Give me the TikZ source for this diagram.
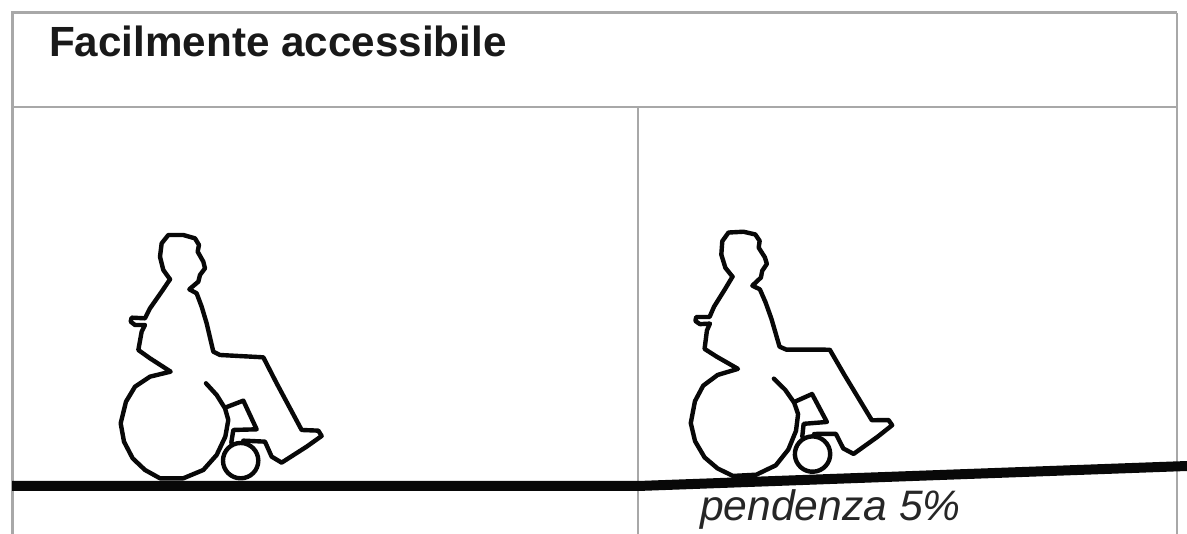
\documentclass[tikz,border=0pt]{standalone}
\usepackage{fontspec}
\setmainfont{Liberation Sans}
\definecolor{rule}{RGB}{168,168,168}
\definecolor{ink}{RGB}{8,8,8}
\tikzset{
  gridline/.style={draw=rule,line width=1.8pt},
  frameline/.style={draw=rule,line width=3pt},
  ground/.style={draw=ink,line width=10pt,line join=round},
  figline/.style={draw=ink,line width=4.4pt,line join=round,line cap=round},
  heading/.style={anchor=base west,inner sep=0pt,font=\fontsize{42.2pt}{44pt}\selectfont\bfseries,text=black!90},
  slopelabel/.style={anchor=base west,inner sep=0pt,font=\fontsize{42.6pt}{44pt}\selectfont\itshape,text=black!85}
}
\newcommand{\seatedfigure}{%
  \begin{scope}[xshift=100pt,yshift=-220pt,x=0.3333pt,y=-0.3333pt]
    % body and big wheel, a single outline
    \draw[figline] (210,178) -- (190,150) -- (180,110) -- (185,70) -- (205,45) -- (250,45) -- (285,55) -- (297,75) -- (293,95) -- (310,125) -- (315,145) -- (300,165) -- (295,185) -- (268,208) -- (290,220) -- (305,260) -- (320,310) -- (340,395) -- (360,405) -- (490,412) -- (530,490) -- (605,630) -- (655,632) -- (665,648) -- (620,680) -- (545,728) -- (515,710) -- (495,665) -- (430,662);
    \draw[figline] (210,178) -- (185,215) -- (150,265) -- (135,295) -- (95,293) -- (92,305) -- (105,315) -- (135,315) -- (125,335) -- (115,390) -- (150,415) -- (212,455) -- (150,470) -- (105,500) -- (78,545) -- (62,610) -- (72,665) -- (98,715) -- (135,750) -- (180,775) -- (250,775) -- (310,750) -- (350,705) -- (376,650) -- (385,600) -- (375,565) -- (350,525) -- (318,490);
    % seat and footrest
    \draw[figline] (378,562) -- (430,542) -- (470,628) -- (400,630) -- (394,668);
    % small wheel
    \draw[figline] (422,722) circle[radius=53];
  \end{scope}}
\begin{document}
\begin{tikzpicture}[x=1pt,y=-1pt]
  \useasboundingbox (0,0) rectangle (1187,534);
  \fill[white] (0,0) rectangle (1187,534);
  \coordinate (tl) at (12,13);
  \coordinate (tr) at (1177,13);
  \coordinate (bl) at (12,534);
  \coordinate (br) at (1177,534);
  \coordinate (ml) at (12,107);
  \coordinate (mr) at (1177,107);
  \coordinate (mm) at (638,107);
  \coordinate (bm) at (638,534);
  \coordinate (g0) at (12,486);
  \coordinate (g1) at (638,486);
  \coordinate (g2) at (1187,466);
  \draw[frameline] (bl) -- (tl) -- (tr);
  \draw[gridline] (tr) -- (br);
  \draw[gridline] (ml) -- (mr);
  \draw[gridline] (mm) -- (bm);
  \draw[ground] (g0) -- (g1) -- (g2);
  \node[heading] (title) at (49,57) {Facilmente accessibile};
  \node[slopelabel] (slope) at (700,521) {pendenza 5\%};
  \seatedfigure
  \begin{scope}[xshift=745pt,yshift=-477pt,rotate=3,xshift=-172pt,yshift=480pt]
    \seatedfigure
  \end{scope}
\end{tikzpicture}
\end{document}
